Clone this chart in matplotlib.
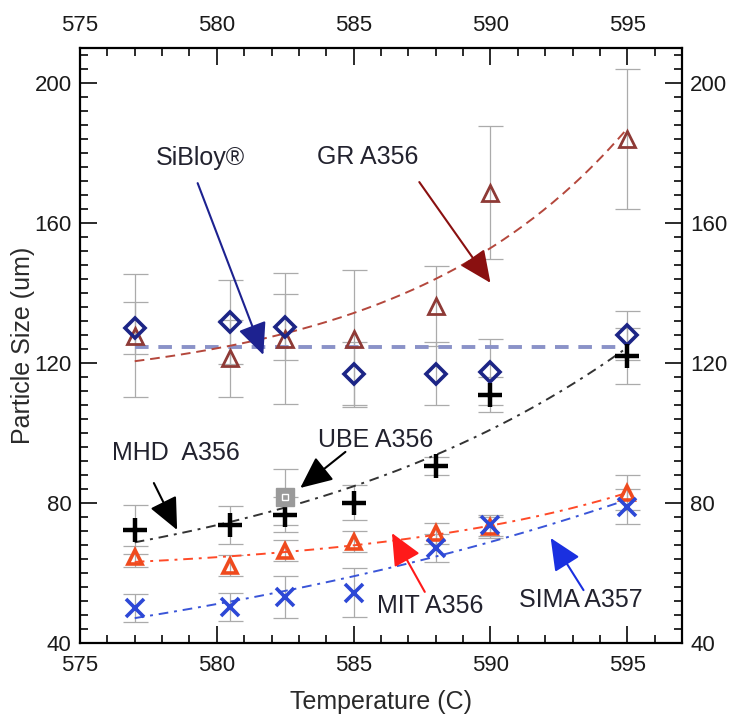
import numpy as np
import matplotlib
matplotlib.use('Agg')
import matplotlib.pyplot as plt
from matplotlib.ticker import MultipleLocator

# Casting temperature (C)
temps = [577, 580.5, 582.5, 585, 588, 590, 595]

# Particle size (um) per alloy
sibloy = [130.0, 131.7, 130.3, 117.0, 116.9, 117.4, 128.0]
sibloy_err = [7.5, 12.0, 9.5, 9.0, 9.0, 9.5, 7.0]

gr = [127.8, 121.4, 127.0, 127.0, 136.3, 168.6, 184.0]
gr_err = [17.5, 11.0, 18.7, 19.5, 11.5, 19.0, 20.0]

mhd = [72.3, 73.7, 76.6, 80.0, 90.5, 110.9, 122.0]
mhd_err = [7.0, 5.5, 5.0, 5.0, 2.5, 5.0, 8.0]

mit = [64.6, 62.0, 66.3, 68.9, 71.4, 73.1, 82.9]
mit_err = [3.0, 3.0, 3.0, 3.0, 3.0, 3.0, 5.0]

sima = [50.0, 50.3, 53.1, 54.3, 67.1, 73.7, 78.9]
sima_err = [4.0, 4.0, 6.0, 7.0, 4.0, 3.0, 5.0]

ube_temp = [582.5]
ube = [81.7]
ube_err = [8.0]


def exp_fit(x, y, xs):
    # y = a + b * exp(k * (x - 595)), k found by scanning
    x = np.asarray(x, float)
    y = np.asarray(y, float)
    best = None
    for k in np.linspace(-0.6, 0.6, 1201):
        basis = np.column_stack([np.ones_like(x), np.exp(k * (x - 595))])
        coef = np.linalg.lstsq(basis, y, rcond=None)[0]
        err = np.sum((basis @ coef - y) ** 2)
        if best is None or err < best[0]:
            best = (err, k, coef)
    _, k, coef = best
    return coef[0] + coef[1] * np.exp(k * (xs - 595))


def main():
    plt.rcParams['font.family'] = ['Liberation Sans', 'DejaVu Sans']

    fig = plt.figure(figsize=(7.31, 7.28), dpi=100)
    ax = fig.add_axes([0.1094, 0.1168, 0.8236, 0.8172])

    xs = np.linspace(min(temps), max(temps), 200)
    grey = '#ababab'

    # Fitted curves
    ax.plot(xs, np.full_like(xs, np.mean(sibloy)), color='#8a92c8',
            lw=2.8, dashes=(3.5, 2.5), zorder=2)
    ax.plot(xs, exp_fit(temps, gr, xs), color='#b4473c', lw=1.4,
            dashes=(5, 3), zorder=2)
    ax.plot(xs, exp_fit(temps, mhd, xs), color='#333333', lw=1.4,
            dashes=(5, 3, 1.5, 3), zorder=2)
    ax.plot(xs, exp_fit(temps, mit, xs), color='#ff4a28', lw=1.4,
            dashes=(5, 3, 1.5, 3), zorder=2)
    ax.plot(xs, exp_fit(temps, sima, xs), color='#3a55d8', lw=1.4,
            dashes=(5, 3, 1.5, 3), zorder=2)

    # Error bars
    for y, e in ((gr, gr_err), (sibloy, sibloy_err), (mhd, mhd_err),
                 (mit, mit_err), (sima, sima_err)):
        ax.errorbar(temps, y, yerr=e, fmt='none', ecolor=grey,
                    elinewidth=0.9, capsize=9, capthick=0.9, zorder=1)
    ax.errorbar(ube_temp, ube, yerr=ube_err, fmt='none', ecolor=grey,
                elinewidth=0.9, capsize=9, capthick=0.9, zorder=1)

    # Markers
    ax.plot(temps, gr, ls='none', marker='^', ms=11, mfc='none',
            mec='#8e3a36', mew=2, zorder=4)
    ax.plot(temps, sibloy, ls='none', marker='D', ms=10, mfc='none',
            mec='#1c2586', mew=2.6, zorder=5)
    ax.plot(temps, mit, ls='none', marker='^', ms=10, mfc='none',
            mec='#ef4a1e', mew=2.6, zorder=4)
    ax.plot(temps, sima, ls='none', marker='x', ms=13, mec='#2d48d6',
            mew=2.6, zorder=4)
    ax.plot(temps, mhd, ls='none', marker='+', ms=17, mec='black',
            mew=3.2, zorder=5)
    ax.plot(ube_temp, ube, ls='none', marker='s', ms=13, mfc='#9a9a9a',
            mec='#9a9a9a', zorder=5)
    ax.plot(ube_temp, ube, ls='none', marker='s', ms=4, mfc='none',
            mec='white', mew=1, zorder=6)

    # Labels with arrows
    txt = dict(fontsize=18, color='#22222e', ha='center', va='center')
    notes = [
        ('SiBloy\u00ae', (579.4, 178.6), (579.3, 171.4), (581.7, 122.3), '#1d2290'),
        ('GR A356', (585.5, 178.9), (587.4, 171.7), (590.0, 142.9), '#8a1010'),
        ('MHD  A356', (578.5, 94.3), (577.7, 85.7), (578.55, 72.3), 'black'),
        ('UBE A356', (585.8, 98.0), (584.7, 94.6), (583.05, 84.3), 'black'),
        ('MIT A356', (587.8, 50.6), (587.6, 54.6), (586.4, 71.4), '#ff1a1a'),
        ('SIMA A357', (593.3, 52.3), (593.4, 55.1), (592.2, 70.0), '#1a30e0'),
    ]
    for label, tpos, tail, tip, c in notes:
        ax.text(*tpos, label, **txt)
        ax.annotate('', xy=tip, xytext=tail,
                    arrowprops=dict(arrowstyle='-|>,head_length=1.1,head_width=0.5',
                                    color=c, lw=1.5, mutation_scale=18,
                                    shrinkA=0, shrinkB=0),
                    zorder=7)

    # Axes
    ax.set_xlim(575, 597)
    ax.set_ylim(40, 210)
    ax.xaxis.set_major_locator(MultipleLocator(5))
    ax.xaxis.set_minor_locator(MultipleLocator(1))
    ax.yaxis.set_major_locator(MultipleLocator(40))
    ax.yaxis.set_minor_locator(MultipleLocator(4))
    ax.tick_params(which='both', direction='in', top=True, right=True,
                   labeltop=True, labelright=True, labelsize=16,
                   colors='#1a1a1a', width=1.3)
    ax.tick_params(axis='x', pad=9)
    ax.tick_params(axis='y', pad=6)
    ax.tick_params(which='major', length=12)
    ax.tick_params(which='minor', length=6)
    for s in ax.spines.values():
        s.set_linewidth(1.6)

    ax.set_xlabel('Temperature (C)', fontsize=18, color='#2a2a2a', labelpad=10)
    ax.set_ylabel('Particle Size (um)', fontsize=18, color='#2a2a2a')
    ax.yaxis.set_label_coords(-0.075, 0.5)

    fig.savefig('out.png', dpi=100)


if __name__ == '__main__':
    main()
